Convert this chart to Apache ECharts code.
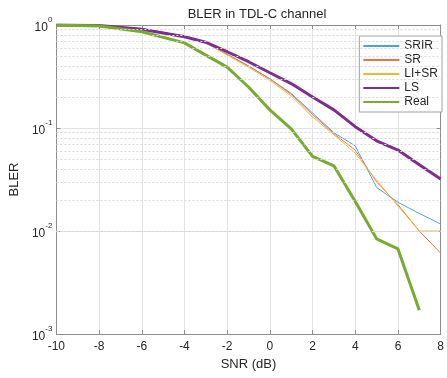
<!DOCTYPE html>
<html>
<head>
<meta charset="utf-8">
<title>BLER in TDL-C channel</title>
<script src="https://cdn.jsdelivr.net/npm/echarts@6/dist/echarts.min.js"></script>
<style>
  html, body { margin: 0; padding: 0; background: #fff; }
  #chart { width: 447px; height: 378px; }
</style>
</head>
<body>
<div id="chart"></div>
<script>
// SNR points (dB)
var snr = [-10, -8, -6, -4, -3, -2, -1, 0, 1, 2, 3, 4, 5, 6, 7, 8];

// BLER per receiver
var srir = [1.0, 0.99, 0.92, 0.78, 0.67, 0.52, 0.40, 0.30, 0.217, 0.14, 0.09, 0.067, 0.0265, 0.019, 0.0148, 0.0117];
var sr   = [1.0, 0.99, 0.92, 0.78, 0.67, 0.52, 0.40, 0.30, 0.212, 0.135, 0.088, 0.061, 0.030, 0.018, 0.0100, 0.0061];
var lisr = [1.0, 0.99, 0.92, 0.78, 0.67, 0.51, 0.39, 0.29, 0.205, 0.128, 0.086, 0.057, 0.031, 0.0175, 0.0100, 0.0100];
var ls   = [1.0, 0.99, 0.91, 0.77, 0.68, 0.55, 0.44, 0.344, 0.27, 0.20, 0.15, 0.103, 0.075, 0.061, 0.044, 0.032];
var real = [1.0, 0.98, 0.86, 0.67, 0.51, 0.39, 0.25, 0.15, 0.098, 0.053, 0.043, 0.0193, 0.0084, 0.0067, 0.0017];

var xTicks = { min: -10, max: 8, interval: 2 };
var yRange = { min: 0.001, max: 1 };

function pairs(xs, ys) {
  var out = [];
  for (var i = 0; i < ys.length; i++) out.push([xs[i], ys[i]]);
  return out;
}

// minor gridlines of the log axis: 2..9 x 10^k
var minorVals = [];
for (var k = -3; k < 0; k++) {
  for (var m = 2; m <= 9; m++) minorVals.push(m * Math.pow(10, k));
}

var font = "Liberation Sans, Arial, Helvetica, sans-serif";
var txt = "#262626";
var axisCol = "#8c8c8c";

var myChart = echarts.init(document.getElementById("chart"));
var option = {
  animation: false,
  textStyle: { fontFamily: font },
  title: {
    text: "BLER in TDL-C channel",
    left: 252,
    textAlign: "center",
    top: 3,
    textStyle: { fontSize: 13, fontWeight: "normal", color: txt, fontFamily: font }
  },
  legend: {
    data: ["SRIR", "SR", "LI+SR", "LS", "Real"],
    orient: "vertical",
    right: 5,
    top: 36,
    itemWidth: 36,
    itemHeight: 12,
    itemGap: 2,
    padding: [4, 4, 4, 3],
    backgroundColor: "#fff",
    borderColor: "#a0a0a0",
    borderWidth: 1,
    borderRadius: 0,
    itemStyle: { opacity: 0 },
    textStyle: { fontSize: 12, color: txt, fontFamily: font }
  },
  grid: { left: 56, right: 1, top: 25, bottom: 44, containLabel: false },
  xAxis: [
    {
      type: "value",
      min: xTicks.min,
      max: xTicks.max,
      interval: xTicks.interval,
      name: "SNR (dB)",
      nameLocation: "middle",
      nameGap: 24,
      nameTextStyle: { fontSize: 13, color: txt },
      axisLine: { onZero: false, lineStyle: { color: axisCol } },
      axisTick: { inside: true, length: 4, lineStyle: { color: axisCol } },
      axisLabel: { fontSize: 12, color: txt, margin: 7 },
      splitLine: { show: true, lineStyle: { color: "#e3e3e3", width: 1 } }
    },
    {
      type: "value",
      position: "top",
      min: xTicks.min,
      max: xTicks.max,
      interval: xTicks.interval,
      axisLine: { show: true, onZero: false, lineStyle: { color: axisCol } },
      axisTick: { inside: true, length: 4, lineStyle: { color: axisCol } },
      axisLabel: { show: false },
      splitLine: { show: false }
    }
  ],
  yAxis: [
    {
      type: "log",
      logBase: 10,
      min: yRange.min,
      max: yRange.max,
      name: "BLER",
      nameLocation: "middle",
      nameGap: 33,
      nameTextStyle: { fontSize: 13, color: txt },
      axisLine: { show: true, onZero: false, lineStyle: { color: axisCol } },
      axisTick: { inside: true, length: 4, lineStyle: { color: axisCol } },
      axisLabel: {
        margin: 4,
        formatter: function (v) {
          var e = Math.round(Math.log(v) / Math.LN10);
          return "{b|10}{s|" + e + "}";
        },
        rich: {
          b: { fontSize: 12, color: txt, verticalAlign: "bottom", lineHeight: 18, fontFamily: font },
          s: { fontSize: 8, color: txt, verticalAlign: "top", fontFamily: font }
        }
      },
      splitLine: { show: true, lineStyle: { color: "#e3e3e3", width: 1 } }
    },
    {
      type: "log",
      logBase: 10,
      position: "right",
      min: yRange.min,
      max: yRange.max,
      axisLine: { show: true, onZero: false, lineStyle: { color: axisCol } },
      axisTick: { inside: true, length: 4, lineStyle: { color: axisCol } },
      axisLabel: { show: false },
      splitLine: { show: false }
    }
  ],
  series: [
    {
      name: "_minor",
      type: "line",
      data: [],
      silent: true,
      markLine: {
        silent: true,
        symbol: "none",
        label: { show: false },
        lineStyle: { color: "#d8d8d8", type: [2, 2], width: 1 },
        data: minorVals.map(function (v) { return { yAxis: v }; })
      }
    },
    {
      name: "SRIR", type: "line", symbol: "none",
      data: pairs(snr, srir),
      lineStyle: { color: "#4ea3df", width: 1 }, itemStyle: { color: "#4ea3df" }
    },
    {
      name: "SR", type: "line", symbol: "none",
      data: pairs(snr, sr),
      lineStyle: { color: "#e8764c", width: 1 }, itemStyle: { color: "#f4b49b" }
    },
    {
      name: "LI+SR", type: "line", symbol: "none",
      data: pairs(snr, lisr),
      lineStyle: { color: "#f2b52e", width: 1 }, itemStyle: { color: "#f7c94f" }
    },
    {
      name: "LS", type: "line", symbol: "none",
      data: pairs(snr, ls),
      lineStyle: { color: "#7e2f8e", width: 3 }, itemStyle: { color: "#7e2f8e" }
    },
    {
      name: "Real", type: "line", symbol: "none",
      data: pairs(snr, real),
      lineStyle: { color: "#77ac30", width: 3 }, itemStyle: { color: "#77ac30" }
    }
  ]
};
myChart.setOption(option);
</script>
</body>
</html>
